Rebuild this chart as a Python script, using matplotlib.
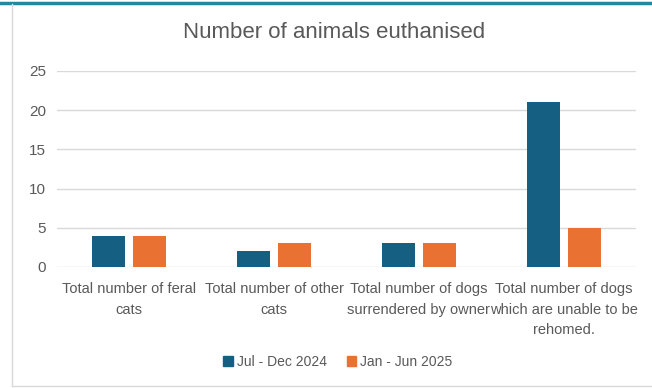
import matplotlib
matplotlib.use("Agg")
import matplotlib.pyplot as plt
import numpy as np
from matplotlib.lines import Line2D

categories = ["Total number of feral\ncats", "Total number of other\ncats",
              "Total number of dogs\nsurrendered by owner", "Total number of dogs\nwhich are unable to be\nrehomed."]
series_names = ["Jul - Dec 2024", "Jan - Jun 2025"]
jul_dec_2024 = [4, 2, 3, 21]
jan_jun_2025 = [4, 3, 3, 5]
yticks = [0, 5, 10, 15, 20, 25]

blue = "#156082"
orange = "#E97132"
txt = "#595959"

plt.rcParams['font.family'] = ['Liberation Sans', 'DejaVu Sans']

W, H = 652, 388
fig = plt.figure(figsize=(W/100, H/100), dpi=100)
ax = fig.add_axes([57/W, 1-267/H, (636-57)/W, (267-71)/H])

x = np.arange(len(categories))
bw = 0.228
off = 0.142
ax.bar(x - off, jul_dec_2024, bw, color=blue, label=series_names[0], zorder=3)
ax.bar(x + off, jan_jun_2025, bw, color=orange, label=series_names[1], zorder=3)
ax.set_xlim(-0.5, 3.5)
ax.set_ylim(0, 25)
ax.set_yticks(yticks)
ax.set_yticklabels([str(v) for v in yticks], color=txt, fontsize=11)
ax.set_xticks(x)
ax.set_xticklabels(categories, color=txt, fontsize=10.5, linespacing=1.6)
ax.tick_params(length=0, pad=8)
ax.tick_params(axis='x', pad=11)
ax.grid(axis='y', color='#D9D9D9', linewidth=1, zorder=0)
for s in ax.spines.values():
    s.set_visible(False)

fig.text(334/W, 1-33/H, "Number of animals euthanised", ha='center', va='center',
         fontsize=16, color=txt)

handles = [plt.Rectangle((0, 0), 1, 1, color=blue), plt.Rectangle((0, 0), 1, 1, color=orange)]
fig.legend(handles, series_names, loc='center', bbox_to_anchor=(338/W, 1-362/H), ncol=2,
           frameon=False, fontsize=10, labelcolor=txt, handlelength=0.7, handleheight=0.7,
           handletextpad=0.3, columnspacing=1.4)

# frame lines
fig.add_artist(Line2D([0, 1], [1-2.5/H, 1-2.5/H], color="#1F8A99", linewidth=2.5, transform=fig.transFigure))
fig.add_artist(Line2D([12/W, 12/W], [1-4/H, 1-386/H], color="#D9D9D9", linewidth=1, transform=fig.transFigure))
fig.add_artist(Line2D([12/W, 1], [1-386/H, 1-386/H], color="#D9D9D9", linewidth=1, transform=fig.transFigure))

fig.savefig("out.png", dpi=100)
